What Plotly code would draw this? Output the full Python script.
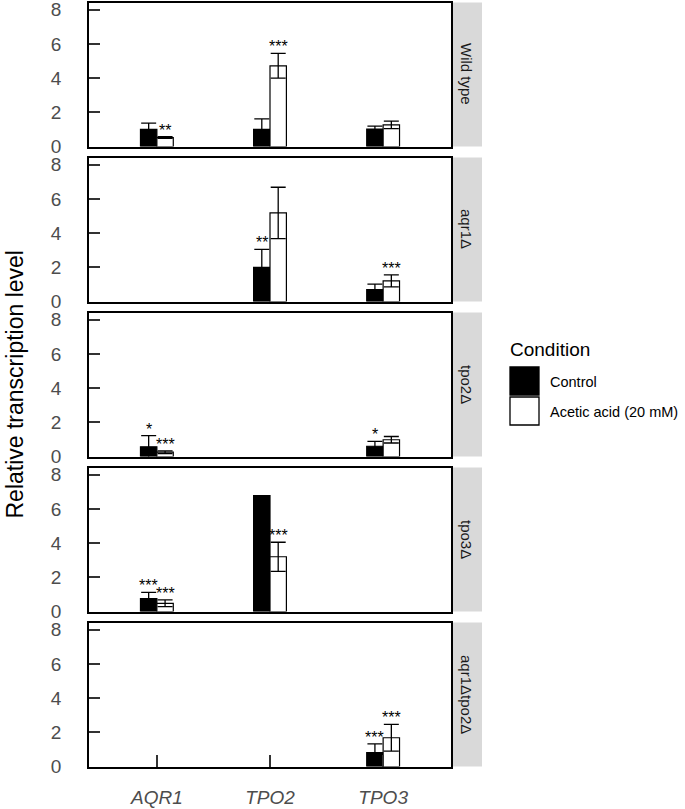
import plotly.graph_objects as go
from plotly.subplots import make_subplots

# ---------------- data ----------------
genes = ["AQR1", "TPO2", "TPO3"]
genotypes = ["Wild type", "aqr1Δ", "tpo2Δ", "tpo3Δ", "aqr1Δtpo2Δ"]

control_mean = [
    [1.0, 1.0, 1.02],
    [None, 2.0, 0.7],
    [0.57, None, 0.6],
    [0.75, 6.77, None],
    [None, None, 0.82],
]
control_err = [
    [0.37, 0.62, 0.17],
    [None, 1.05, 0.32],
    [0.65, None, 0.28],
    [0.37, 0.0, None],
    [None, None, 0.5],
]
acetic_mean = [
    [0.52, 4.72, 1.26],
    [None, 5.18, 1.21],
    [0.25, None, 0.98],
    [0.48, 3.2, None],
    [None, None, 1.68],
]
acetic_err = [
    [0.05, 0.72, 0.22],
    [None, 1.5, 0.35],
    [0.08, None, 0.19],
    [0.2, 0.85, None],
    [None, None, 0.78],
]
control_sig = [
    ["", "", ""],
    ["", "**", ""],
    ["*", "", "*"],
    ["***", "", ""],
    ["", "", "***"],
]
acetic_sig = [
    ["**", "***", ""],
    ["", "", "***"],
    ["***", "", ""],
    ["***", "***", ""],
    ["", "", "***"],
]
conditions = ["Control", "Acetic acid (20 mM)"]
y_ticks = [0, 2, 4, 6, 8]

# ---------------- layout constants ----------------
W, H = 685, 809
FONT = "Liberation Sans, Arial, sans-serif"
px_left, px_right = 89, 451
strip_x0, strip_x1 = 451, 482
panel_h, panel_step, panel_top0 = 144, 155, 2.5
BARGAP = 0.71
X_RANGE = [-0.6, 2.6]
bar_px = (1 - BARGAP) / 2 * (px_right - px_left) / (X_RANGE[1] - X_RANGE[0])

fig = make_subplots(rows=5, cols=1, shared_xaxes=True, vertical_spacing=0.01)

series = [
    (conditions[0], control_mean, control_err, control_sig, "black", -1),
    (conditions[1], acetic_mean, acetic_err, acetic_sig, "white", 1),
]

annotations = []
for r in range(5):
    xref = "x" if r == 0 else f"x{r + 1}"
    yref = "y" if r == 0 else f"y{r + 1}"
    for name, means, errs, sigs, color, side in series:
        fig.add_trace(go.Bar(
            x=genes, y=means[r], name=name, offsetgroup=name,
            marker=dict(color=color, line=dict(color="black", width=1.2)),
            error_y=dict(type="data", array=[e if e is not None else 0 for e in errs[r]],
                         visible=True, color="black", thickness=1.3, width=7.5),
            showlegend=False,
        ), row=r + 1, col=1)
        for g, m, e, s in zip(genes, means[r], errs[r], sigs[r]):
            if s and m is not None:
                annotations.append(dict(
                    xref=xref, yref=yref, x=g, y=m + e, text=s, showarrow=False,
                    xanchor="center", yanchor="bottom", xshift=side * bar_px / 2, yshift=-4,
                    font=dict(family=FONT, size=16, color="black")))

fig.update_layout(
    width=W, height=H,
    margin=dict(l=0, r=0, t=0, b=0, autoexpand=False),
    plot_bgcolor="white", paper_bgcolor="white",
    barmode="group", bargap=BARGAP, bargroupgap=0,
    font=dict(family=FONT),
    showlegend=False,
)

shapes = []
for r in range(5):
    top = panel_top0 + panel_step * r
    bot = top + panel_h
    dom = [1 - bot / H, 1 - top / H]
    xa = "xaxis" if r == 0 else f"xaxis{r + 1}"
    ya = "yaxis" if r == 0 else f"yaxis{r + 1}"
    yref = "y" if r == 0 else f"y{r + 1}"
    last = r == 4
    fig.layout[xa].update(
        domain=[px_left / W, px_right / W], range=X_RANGE, type="category",
        showline=True, linecolor="black", linewidth=1.8, mirror=True,
        showgrid=False, zeroline=False, automargin=False,
        showticklabels=last, ticks="inside" if last else "",
        ticklen=12, tickwidth=1.5, tickcolor="#333333",
        tickfont=dict(family=FONT, size=19, color="#4D4D4D", style="italic"),
        ticklabelstandoff=13, ticklabeloverflow="allow",
    )
    fig.layout[ya].update(
        domain=dom, range=[0, 8.42], tickvals=y_ticks,
        showline=True, linecolor="black", linewidth=1.8, mirror=True,
        showgrid=False, zeroline=False, automargin=False,
        ticks="inside", ticklen=11, tickwidth=1.5, tickcolor="#333333",
        tickfont=dict(family=FONT, size=19, color="#4D4D4D"),
        ticklabelstandoff=22, ticklabeloverflow="allow",
    )
    shapes.append(dict(type="rect", xref="paper", yref=f"{yref} domain",
                       x0=strip_x0 / W + 0.001, x1=strip_x1 / W, y0=0, y1=1,
                       fillcolor="#D9D9D9", line=dict(width=0), layer="below"))
    annotations.append(dict(xref="paper", yref=f"{yref} domain",
                            x=(strip_x0 + strip_x1) / 2 / W, y=0.5,
                            text=genotypes[r], textangle=90, showarrow=False,
                            font=dict(family=FONT, size=15, color="#1A1A1A"),
                            xanchor="center", yanchor="middle"))

# y-axis title
annotations.append(dict(xref="paper", yref="paper", x=15 / W,
                        y=1 - ((panel_top0 + panel_top0 + panel_step * 4 + panel_h) / 2) / H,
                        text="Relative transcription level", textangle=-90,
                        showarrow=False, xanchor="center", yanchor="middle",
                        font=dict(family=FONT, size=23, color="black")))

# legend (manual, ggplot-style)
annotations.append(dict(xref="paper", yref="paper", x=508 / W, y=1 - 350 / H,
                        text="Condition", showarrow=False, xanchor="left", yanchor="middle",
                        font=dict(family=FONT, size=19, color="black")))
key_fill = ["black", "white"]
for i, lab in enumerate(conditions):
    y0 = 367 + i * 30
    shapes.append(dict(type="rect", xref="paper", yref="paper",
                       x0=510 / W, x1=539 / W, y0=1 - (y0 + 28) / H, y1=1 - y0 / H,
                       fillcolor=key_fill[i], line=dict(color="black", width=1.3)))
    annotations.append(dict(xref="paper", yref="paper", x=548 / W, y=1 - (y0 + 14.5) / H,
                            text=lab, showarrow=False, xanchor="left", yanchor="middle",
                            font=dict(family=FONT, size=14.5, color="black")))

fig.update_layout(shapes=shapes, annotations=annotations)
fig.write_html("out.html", config={"displayModeBar": False},
               post_script="document.body.style.margin='0';document.body.style.overflow='hidden';")
